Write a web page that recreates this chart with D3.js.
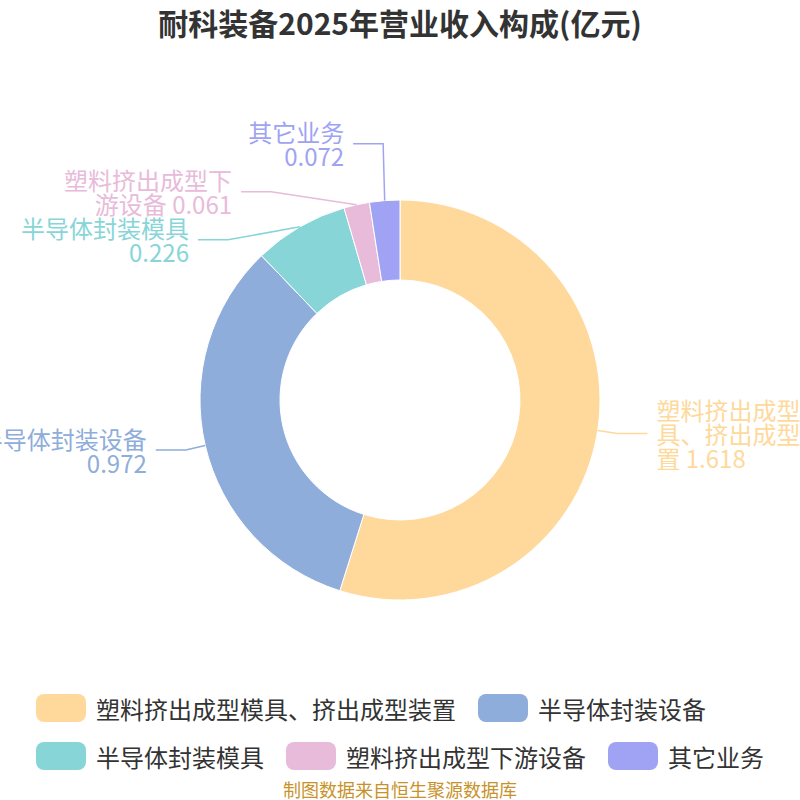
<!DOCTYPE html>
<html lang="zh">
  <head>
    <meta charset="UTF-8" />
    <title>耐科装备2025年营业收入构成</title>
    <script src="https://cdn.jsdelivr.net/npm/d3@7/dist/d3.min.js"></script>
    <style>
      body {
        margin: 0;
        background: #fff;
      }
      text {
        font-family: "Noto Sans CJK SC", "Noto Sans", sans-serif;
      }
      .title {
        font-size: 30px;
        font-weight: bold;
        fill: #333;
      }
      .slice-label {
        font-size: 24px;
      }
      .measure-label {
        font-size: 24px;
        font-family: "DejaVu Sans", "Noto Sans CJK SC", sans-serif;
      }
      .legend-text {
        font-size: 24px;
        fill: #333;
      }
      .source {
        font-size: 18px;
        fill: #c8922a;
      }
    </style>
  </head>
  <body>
    <script>
      // Data...
      var categories = [
        "塑料挤出成型模具、挤出成型装置",
        "半导体封装设备",
        "半导体封装模具",
        "塑料挤出成型下游设备",
        "其它业务"
      ];
      var revenues = [1.618, 0.972, 0.226, 0.061, 0.072];
      var colors = ["#fed99b", "#8eaddb", "#88d5d8", "#e8bbda", "#a0a3f4"];

      // Layout...
      var w = 800,
          h = 800;
      var cx = 400,
          cy = 400,
          rOuter = 200,
          rInner = 120;
      var len1 = 20,      // radial part of the label line
          len2 = 30,      // horizontal part
          textGap = 9,
          lineH = 24,
          labelWidth = 170;

      var svg = d3.select("body").append("svg")
        .attr("width", w)
        .attr("height", h);

      svg.append("text")
        .attr("class", "title")
        .attr("x", w / 2)
        .attr("y", 22)
        .attr("text-anchor", "middle")
        .attr("dominant-baseline", "central")
        .text("耐科装备2025年营业收入构成(亿元)");

      // Measuring helper for wrapping
      var measurer = svg.append("text")
        .attr("x", -1000)
        .attr("y", -1000);

      function textWidth(str, cls) {
        measurer.attr("class", cls).text(str);
        return measurer.node().getComputedTextLength();
      }

      // Greedy wrap: CJK characters can break anywhere, latin/digit runs stay whole
      function wrap(str, maxW) {
        var tokens = str.match(/[A-Za-z0-9.]+|\s|./g);
        var lines = [], cur = "";
        tokens.forEach(function(t) {
          var test = cur + t;
          if (cur !== "" && textWidth(test, "measure-label") > maxW) {
            lines.push(cur.replace(/\s+$/, ""));
            cur = t === " " ? "" : t;
          } else {
            cur = test;
          }
        });
        if (cur !== "") lines.push(cur);
        return lines;
      }

      // Pie...
      var pie = d3.pie()
        .sort(null)
        .value(function(d) { return d; });

      var arcs = pie(revenues);

      var arc = d3.arc()
        .innerRadius(rInner)
        .outerRadius(rOuter);

      var g = svg.append("g")
        .attr("transform", "translate(" + cx + "," + cy + ")");

      g.selectAll("path.slice")
        .data(arcs)
        .enter()
        .append("path")
        .attr("class", "slice")
        .attr("d", arc)
        .attr("fill", function(d, i) { return colors[i]; })
        .attr("stroke", "#fff")
        .attr("stroke-width", 1);

      // Labels, with a simple overlap avoidance similar to echarts
      var labels = arcs.map(function(a, i) {
        var mid = (a.startAngle + a.endAngle) / 2;
        var dx = Math.sin(mid),
            dy = -Math.cos(mid);
        var lines = wrap(categories[i] + " " + a.value, labelWidth);
        return {
          i: i,
          side: dx < 0 ? -1 : 1,
          p0: [rOuter * dx, rOuter * dy],
          x0: (rOuter + len1) * dx,
          y: (rOuter + len1) * dy,
          x: (rOuter + len1) * dx,
          lines: lines,
          h: lines.length * lineH
        };
      });

      [-1, 1].forEach(function(side) {
        var list = labels.filter(function(l) { return l.side === side; })
          .sort(function(a, b) { return a.y - b.y; });
        if (list.length < 2) return;

        // push down overlapping labels, grouping them into clusters
        var clusters = [], lastPos = -Infinity, adjusted = false;
        list.forEach(function(l) {
          var top = l.y - l.h / 2;
          if (top < lastPos) {
            l.shift = lastPos - top;
            l.y += l.shift;
            clusters[clusters.length - 1].push(l);
            adjusted = true;
          } else {
            l.shift = 0;
            clusters.push([l]);
          }
          lastPos = l.y + l.h / 2;
        });
        if (!adjusted) return;

        // move each cluster back by its mean shift
        clusters.forEach(function(c) {
          var m = d3.mean(c, function(l) { return l.shift; });
          c.forEach(function(l) { l.y -= m; });
        });

        // put elbows back on an ellipse
        var rA = rOuter + len1;
        [list.filter(function(l) { return l.y < 0; }),
         list.filter(function(l) { return l.y >= 0; })].forEach(function(semi) {
          if (!semi.length) return;
          var far = d3.greatest(semi, function(l) { return Math.abs(l.y); });
          var fdy = Math.abs(far.y), fdx = far.x0;
          var rB = Math.abs(fdx) < rA ? Math.sqrt(fdy * fdy / (1 - fdx * fdx / (rA * rA))) : rA;
          semi.forEach(function(l) {
            var ddy = Math.abs(l.y);
            l.x = side * Math.sqrt(Math.max(0, 1 - ddy * ddy / (rB * rB)) * rA * rA);
          });
        });
      });

      var labelG = g.selectAll("g.label")
        .data(labels)
        .enter()
        .append("g")
        .attr("class", "label");

      labelG.append("polyline")
        .attr("points", function(l) {
          return [l.p0, [l.x, l.y], [l.x + l.side * len2, l.y]].join(" ");
        })
        .attr("fill", "none")
        .attr("stroke", function(l) { return colors[l.i]; })
        .attr("stroke-width", 1.5);

      labelG.append("text")
        .attr("class", "slice-label")
        .attr("fill", function(l) { return colors[l.i]; })
        .attr("text-anchor", function(l) { return l.side < 0 ? "end" : "start"; })
        .selectAll("tspan")
        .data(function(l) {
          return l.lines.map(function(t, k) {
            return { t: t, k: k, l: l };
          });
        })
        .enter()
        .append("tspan")
        .attr("x", function(d) { return d.l.x + d.l.side * (len2 + textGap); })
        .attr("y", function(d) { return d.l.y + (d.k - (d.l.lines.length - 1) / 2) * lineH; })
        .attr("dominant-baseline", "central")
        .text(function(d) { return d.t; });

      // Legend...
      var iconW = 50, iconH = 28, iconGap = 10, itemGap = 22, rowH = 48;
      var legendMax = w - 40;
      var items = categories.map(function(c, i) {
        return { i: i, name: c, w: iconW + iconGap + textWidth(c, "legend-text") };
      });
      var rows = [[]], rowW = [0];
      items.forEach(function(it) {
        var r = rows.length - 1;
        var add = (rows[r].length ? itemGap : 0) + it.w;
        if (rows[r].length && rowW[r] + add > legendMax) {
          rows.push([it]);
          rowW.push(it.w);
        } else {
          rows[r].push(it);
          rowW[r] += add;
        }
      });
      var legendLeft = (w - d3.max(rowW)) / 2;

      var legend = svg.append("g").attr("class", "legend");
      rows.forEach(function(row, r) {
        var x = legendLeft,
            yc = 708 + r * rowH;
        row.forEach(function(it) {
          legend.append("rect")
            .attr("x", x)
            .attr("y", yc - iconH / 2)
            .attr("width", iconW)
            .attr("height", iconH)
            .attr("rx", 8)
            .attr("fill", colors[it.i]);
          legend.append("text")
            .attr("class", "legend-text")
            .attr("x", x + iconW + iconGap)
            .attr("y", yc)
            .attr("dominant-baseline", "central")
            .text(it.name);
          x += it.w + itemGap;
        });
      });

      measurer.remove();

      svg.append("text")
        .attr("class", "source")
        .attr("x", w / 2)
        .attr("y", 789)
        .attr("text-anchor", "middle")
        .attr("dominant-baseline", "central")
        .text("制图数据来自恒生聚源数据库");
    </script>
  </body>
</html>
